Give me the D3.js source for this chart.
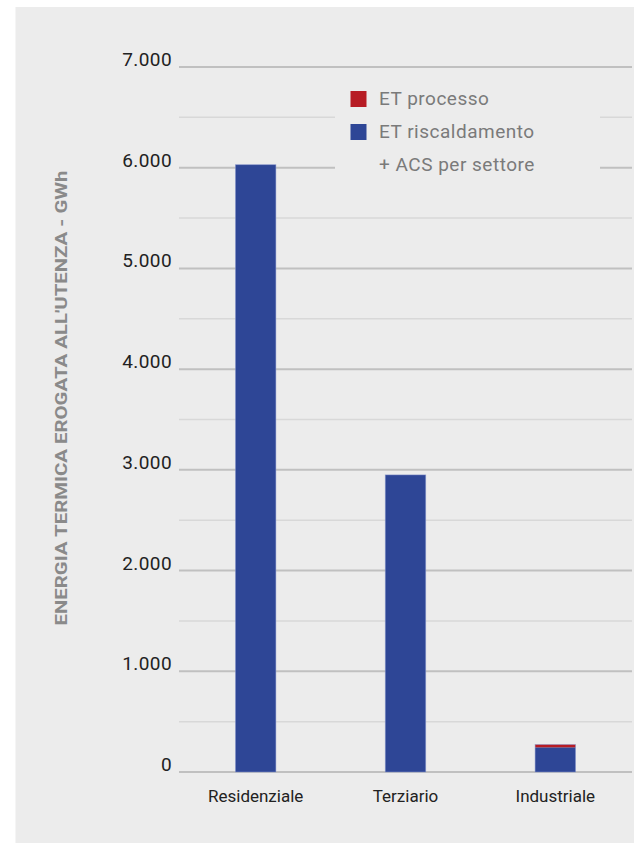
<!DOCTYPE html>
<html>
<head>
<meta charset="utf-8">
<script src="https://cdn.jsdelivr.net/npm/d3@7"></script>
<style>
  body { margin: 0; background: #fff; }
  svg { display: block; }
  text { font-family: Roboto, "Noto Sans", sans-serif; }
</style>
</head>
<body>
<div id="chart"></div>
<script>
var sectors = ["Residenziale", "Terziario", "Industriale"];
var riscaldamento = [6030, 2950, 245];
var processo = [0, 0, 28];
var yTicks = [0, 1000, 2000, 3000, 4000, 5000, 6000, 7000];
var yMinor = [500, 1500, 2500, 3500, 4500, 5500, 6500];
var legendLabels = ["ET processo", "ET riscaldamento", "+ ACS per settore"];

var colors = { processo: "#b71c24", riscaldamento: "#2e4696" };

var W = 634, H = 843;
var margin = {top: 67, right: 2, bottom: 71, left: 179};

var svg = d3.select("#chart").append("svg")
    .attr("width", W)
    .attr("height", H);

// grey panel
svg.append("rect")
    .attr("x", 15.5).attr("y", 7)
    .attr("width", W - 15.5).attr("height", H - 7)
    .attr("fill", "#ececec");

var x = d3.scaleBand()
    .domain(sectors)
    .range([margin.left + 1, W - margin.right - 1])
    .paddingInner(0.73)
    .paddingOuter(0.37);

var y = d3.scaleLinear()
    .domain([0, 7000])
    .range([H - margin.bottom, margin.top]);

var fmt = function(d) { return d3.format(",")(d).replace(/,/g, "."); };

// minor gridlines
svg.append("g").selectAll("line")
    .data(yMinor)
    .join("line")
    .attr("x1", margin.left).attr("x2", W - margin.right)
    .attr("y1", d => y(d)).attr("y2", d => y(d))
    .attr("stroke", "#d8d8d8")
    .attr("stroke-width", 1.5);

// major gridlines
svg.append("g").selectAll("line")
    .data(yTicks)
    .join("line")
    .attr("x1", margin.left).attr("x2", W - margin.right)
    .attr("y1", d => y(d)).attr("y2", d => y(d))
    .attr("stroke", "#c0c0c0")
    .attr("stroke-width", 2);

// y tick labels
svg.append("g").selectAll("text")
    .data(yTicks)
    .join("text")
    .attr("x", margin.left - 7)
    .attr("y", d => y(d) - 1)
    .attr("text-anchor", "end")
    .attr("font-size", 19)
    .attr("letter-spacing", 0.4)
    .attr("fill", "#222")
    .text(fmt);

// y title
svg.append("text")
    .attr("transform", "translate(67," + 398 + ") rotate(-90)")
    .attr("text-anchor", "middle")
    .attr("font-size", 17)
    .attr("font-weight", "bold")
    .attr("textLength", 455)
    .attr("lengthAdjust", "spacingAndGlyphs")
    .attr("fill", "#8a8a8a")
    .text("ENERGIA TERMICA EROGATA ALL'UTENZA - GWh");

// stacked bars
var rows = sectors.map(function(s, i) {
  return {sector: s, riscaldamento: riscaldamento[i], processo: processo[i]};
});
var stack = d3.stack().keys(["riscaldamento", "processo"])(rows);

svg.append("g").selectAll("g")
    .data(stack)
    .join("g")
    .attr("fill", d => colors[d.key])
    .selectAll("rect")
    .data(d => d.filter(v => v[1] > v[0]))
    .join("rect")
    .attr("x", d => x(d.data.sector))
    .attr("width", x.bandwidth())
    .attr("y", d => y(d[1]))
    .attr("height", d => y(d[0]) - y(d[1]));

// bar outline
svg.append("g").selectAll("rect")
    .data(rows)
    .join("rect")
    .attr("x", d => x(d.sector))
    .attr("width", x.bandwidth())
    .attr("y", d => y(d.riscaldamento + d.processo))
    .attr("height", d => y(0) - y(d.riscaldamento + d.processo))
    .attr("fill", "none")
    .attr("stroke", "#8a9ad0")
    .attr("stroke-opacity", 0.6)
    .attr("stroke-width", 0.8);

// x labels
svg.append("g").selectAll("text")
    .data(sectors)
    .join("text")
    .attr("x", d => x(d) + x.bandwidth() / 2)
    .attr("y", 802)
    .attr("text-anchor", "middle")
    .attr("font-size", 17)
    .attr("fill", "#222")
    .text(d => d);

// legend
var legend = svg.append("g");
legend.append("rect")
    .attr("x", 335).attr("y", 80)
    .attr("width", 265).attr("height", 105)
    .attr("fill", "#ececec");

var legendColors = [colors.processo, colors.riscaldamento, null];
legendLabels.forEach(function(lbl, i) {
  var cy = 99 + i * 33;
  if (legendColors[i]) {
    legend.append("rect")
      .attr("x", 350.5).attr("y", cy - 8)
      .attr("width", 16).attr("height", 16)
      .attr("fill", legendColors[i]);
  }
  legend.append("text")
    .attr("x", 379).attr("y", cy + 6)
    .attr("font-size", 19)
    .attr("letter-spacing", 0.5)
    .attr("fill", "#7a7a7a")
    .text(lbl);
});
</script>
</body>
</html>
